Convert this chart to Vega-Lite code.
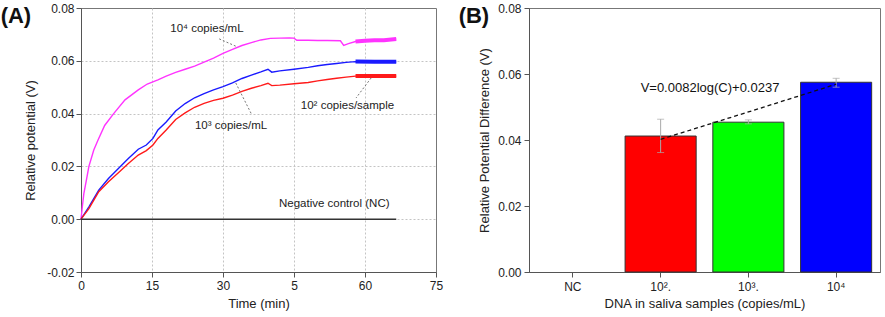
{
  "$schema": "https://vega.github.io/schema/vega-lite/v6.json",
  "background": "white",
  "padding": {"left": 0, "top": 1, "right": 0, "bottom": 0},
  "spacing": 14,
  "resolve": {"scale": {"color": "independent"}},
  "config": {
    "font": "Liberation Sans",
    "view": {"stroke": "#777", "strokeWidth": 1},
    "axis": {
      "domainColor": "#555",
      "tickColor": "#555",
      "labelColor": "#222",
      "titleColor": "#222",
      "labelFont": "Liberation Sans",
      "titleFont": "Liberation Sans",
      "labelFontSize": 12,
      "titleFontSize": 13,
      "titleFontWeight": "normal"
    },
    "title": {"font": "Liberation Sans", "fontSize": 22, "fontWeight": "bold", "anchor": "start", "frame": "bounds", "color": "#111"}
  },
  "datasets": {
    "curves": [
      {"s": "1e4", "t": 0, "v": 0}, {"s": "1e4", "t": 0.3, "v": 0.005}, {"s": "1e4", "t": 0.6, "v": 0.0097}, {"s": "1e4", "t": 1, "v": 0.0135},
      {"s": "1e4", "t": 1.67, "v": 0.02}, {"s": "1e4", "t": 2.7, "v": 0.0262}, {"s": "1e4", "t": 3.6, "v": 0.03}, {"s": "1e4", "t": 5, "v": 0.0355},
      {"s": "1e4", "t": 6.9, "v": 0.04}, {"s": "1e4", "t": 9.3, "v": 0.0452}, {"s": "1e4", "t": 12.1, "v": 0.049}, {"s": "1e4", "t": 14, "v": 0.0512},
      {"s": "1e4", "t": 16.25, "v": 0.0528}, {"s": "1e4", "t": 18, "v": 0.0542}, {"s": "1e4", "t": 20, "v": 0.0556}, {"s": "1e4", "t": 22, "v": 0.0568},
      {"s": "1e4", "t": 24, "v": 0.058}, {"s": "1e4", "t": 26, "v": 0.0595}, {"s": "1e4", "t": 28, "v": 0.061}, {"s": "1e4", "t": 30, "v": 0.0628},
      {"s": "1e4", "t": 32, "v": 0.0643}, {"s": "1e4", "t": 34, "v": 0.0658}, {"s": "1e4", "t": 36, "v": 0.0669}, {"s": "1e4", "t": 38, "v": 0.0679},
      {"s": "1e4", "t": 40, "v": 0.0685}, {"s": "1e4", "t": 42, "v": 0.0686}, {"s": "1e4", "t": 44, "v": 0.0687}, {"s": "1e4", "t": 45, "v": 0.0686},
      {"s": "1e4", "t": 45.6, "v": 0.0678}, {"s": "1e4", "t": 48, "v": 0.0678}, {"s": "1e4", "t": 50, "v": 0.0677}, {"s": "1e4", "t": 52, "v": 0.0677},
      {"s": "1e4", "t": 54.8, "v": 0.0676}, {"s": "1e4", "t": 55.5, "v": 0.0658}, {"s": "1e4", "t": 56.5, "v": 0.0665}, {"s": "1e4", "t": 58, "v": 0.0673},
      {"s": "1e4", "t": 60, "v": 0.0676}, {"s": "1e4", "t": 62, "v": 0.0678}, {"s": "1e4", "t": 64, "v": 0.0678}, {"s": "1e4", "t": 66.6, "v": 0.0683},

      {"s": "1e3", "t": 0, "v": 0}, {"s": "1e3", "t": 1.67, "v": 0.0047}, {"s": "1e3", "t": 3.75, "v": 0.011}, {"s": "1e3", "t": 5.8, "v": 0.0154},
      {"s": "1e3", "t": 7.9, "v": 0.0192}, {"s": "1e3", "t": 10, "v": 0.023}, {"s": "1e3", "t": 12.1, "v": 0.0265}, {"s": "1e3", "t": 13.8, "v": 0.0281},
      {"s": "1e3", "t": 15.2, "v": 0.0306}, {"s": "1e3", "t": 16.25, "v": 0.0338}, {"s": "1e3", "t": 18, "v": 0.0368}, {"s": "1e3", "t": 20, "v": 0.041},
      {"s": "1e3", "t": 22, "v": 0.0438}, {"s": "1e3", "t": 24, "v": 0.046}, {"s": "1e3", "t": 26, "v": 0.0476}, {"s": "1e3", "t": 28, "v": 0.049},
      {"s": "1e3", "t": 30, "v": 0.0502}, {"s": "1e3", "t": 32, "v": 0.0516}, {"s": "1e3", "t": 34, "v": 0.0533}, {"s": "1e3", "t": 36, "v": 0.0546},
      {"s": "1e3", "t": 38, "v": 0.0558}, {"s": "1e3", "t": 39.5, "v": 0.0568}, {"s": "1e3", "t": 40.3, "v": 0.0557}, {"s": "1e3", "t": 42, "v": 0.0562},
      {"s": "1e3", "t": 45, "v": 0.0568}, {"s": "1e3", "t": 48, "v": 0.0575}, {"s": "1e3", "t": 50, "v": 0.0581}, {"s": "1e3", "t": 52, "v": 0.0586},
      {"s": "1e3", "t": 54, "v": 0.059}, {"s": "1e3", "t": 56, "v": 0.0594}, {"s": "1e3", "t": 58, "v": 0.0597}, {"s": "1e3", "t": 62, "v": 0.0596},
      {"s": "1e3", "t": 66.6, "v": 0.0596},

      {"s": "1e2", "t": 0, "v": 0}, {"s": "1e2", "t": 1.67, "v": 0.004}, {"s": "1e2", "t": 3.75, "v": 0.0104}, {"s": "1e2", "t": 5.8, "v": 0.0142},
      {"s": "1e2", "t": 7.9, "v": 0.0176}, {"s": "1e2", "t": 10, "v": 0.0211}, {"s": "1e2", "t": 12.1, "v": 0.0243}, {"s": "1e2", "t": 13.8, "v": 0.026},
      {"s": "1e2", "t": 15.2, "v": 0.0281}, {"s": "1e2", "t": 16.25, "v": 0.0306}, {"s": "1e2", "t": 18, "v": 0.0338}, {"s": "1e2", "t": 20, "v": 0.0378},
      {"s": "1e2", "t": 22, "v": 0.0403}, {"s": "1e2", "t": 24, "v": 0.0424}, {"s": "1e2", "t": 26, "v": 0.0439}, {"s": "1e2", "t": 28, "v": 0.045},
      {"s": "1e2", "t": 30, "v": 0.0458}, {"s": "1e2", "t": 32, "v": 0.047}, {"s": "1e2", "t": 34, "v": 0.0484}, {"s": "1e2", "t": 36, "v": 0.0496},
      {"s": "1e2", "t": 38, "v": 0.0506}, {"s": "1e2", "t": 39.5, "v": 0.0515}, {"s": "1e2", "t": 40.3, "v": 0.0506}, {"s": "1e2", "t": 42, "v": 0.0508},
      {"s": "1e2", "t": 45, "v": 0.0513}, {"s": "1e2", "t": 48, "v": 0.0518}, {"s": "1e2", "t": 50, "v": 0.0524}, {"s": "1e2", "t": 52, "v": 0.0529},
      {"s": "1e2", "t": 54, "v": 0.0534}, {"s": "1e2", "t": 56, "v": 0.0538}, {"s": "1e2", "t": 58, "v": 0.0542}, {"s": "1e2", "t": 62, "v": 0.0542},
      {"s": "1e2", "t": 66.6, "v": 0.0542},

      {"s": "NC", "t": 0, "v": 0}, {"s": "NC", "t": 66.6, "v": 0}
    ],
    "leaders": [
      {"t": 29.2, "v": 0.0683, "t2": 33.0, "v2": 0.0653},
      {"t": 32.7, "v": 0.0516, "t2": 36.1, "v2": 0.0395},
      {"t": 61.3, "v": 0.0535, "t2": 58.1, "v2": 0.0459}
    ],
    "labelsA": [
      {"t": 26.6, "v": 0.0721, "label": "10⁴ copies/mL"},
      {"t": 31.7, "v": 0.0353, "label": "10³ copies/mL"},
      {"t": 56.3, "v": 0.0429, "label": "10² copies/sample"},
      {"t": 53.5, "v": 0.0057, "label": "Negative control (NC)"}
    ],
    "bars": [
      {"cat": "10².", "v": 0.0412, "lo": 0.0362, "hi": 0.0463},
      {"cat": "10³.", "v": 0.0454, "lo": 0.0449, "hi": 0.0461},
      {"cat": "10⁴", "v": 0.0575, "lo": 0.056, "hi": 0.0587}
    ],
    "fit": [
      {"cat": "10².", "v": 0.0402},
      {"cat": "10³.", "v": 0.0485},
      {"cat": "10⁴", "v": 0.0569}
    ],
    "eq": [{"cat": "10².", "v": 0.0558, "label": "V=0.0082log(C)+0.0237"}]
  },
  "hconcat": [
    {
      "width": 355,
      "height": 264,
      "title": {"text": "(A)", "dx": -24, "dy": 26, "offset": 0},
      "layer": [
        {
          "data": {"name": "curves"},
          "mark": {"type": "line", "strokeWidth": 1.4},
          "encoding": {
            "x": {
              "field": "t", "type": "quantitative",
              "scale": {"domain": [0, 75], "nice": false, "zero": false},
              "axis": {
                "title": "Time (min)",
                "values": [0, 7.5, 15, 22.5, 30, 37.5, 45, 52.5, 60, 67.5, 75],
                "labelExpr": "datum.value % 15 != 0 ? '' : (datum.value == 45 ? '5' : datum.label)",
                "tickSize": {"condition": {"test": "datum.value % 15 != 0", "value": 3}, "value": 5},
                "grid": true,
                "gridDash": [2, 2],
                "gridColor": "#c4c4c4",
                "gridOpacity": {"condition": {"test": "datum.value % 15 != 0 || datum.value == 0 || datum.value == 75", "value": 0}, "value": 1},
                "labelPadding": 3,
                "titlePadding": 6,
                "labelFlush": false
              }
            },
            "y": {
              "field": "v", "type": "quantitative",
              "scale": {"domain": [-0.02, 0.08], "nice": false, "zero": false},
              "axis": {
                "title": "Relative potential (V)",
                "values": [-0.02, -0.01, 0, 0.01, 0.02, 0.03, 0.04, 0.05, 0.06, 0.07, 0.08],
                "labelExpr": "abs(round(datum.value*100)) % 2 == 1 ? '' : (datum.value < 0 ? '-' : '') + format(abs(datum.value), '.2f')",
                "tickSize": {"condition": {"test": "abs(round(datum.value*100)) % 2 == 1", "value": 3}, "value": 5},
                "grid": true,
                "gridDash": [2, 2],
                "gridColor": "#c4c4c4",
                "gridOpacity": {"condition": {"test": "abs(round(datum.value*100)) % 2 == 1 || datum.value >= 0.079 || datum.value <= -0.019", "value": 0}, "value": 1},
                "labelPadding": 2,
                "titlePadding": 9,
                "labelFlush": false
              }
            },
            "color": {
              "field": "s", "type": "nominal",
              "scale": {"domain": ["NC", "1e2", "1e3", "1e4"], "range": ["#333333", "#ff1a1a", "#1a1aff", "#ff33ff"]},
              "legend": null
            },
            "order": {"field": "t", "type": "quantitative"}
          }
        },
        {
          "data": {"name": "curves"},
          "transform": [{"filter": "datum.t >= 58 && datum.s != 'NC'"}],
          "mark": {"type": "line", "strokeWidth": 4},
          "encoding": {
            "x": {"field": "t", "type": "quantitative"},
            "y": {"field": "v", "type": "quantitative"},
            "color": {"field": "s", "type": "nominal", "legend": null},
            "order": {"field": "t", "type": "quantitative"}
          }
        },
        {
          "data": {"name": "leaders"},
          "mark": {"type": "rule", "strokeDash": [2, 2], "color": "#666", "strokeWidth": 0.9},
          "encoding": {
            "x": {"field": "t", "type": "quantitative"},
            "y": {"field": "v", "type": "quantitative"},
            "x2": {"field": "t2"},
            "y2": {"field": "v2"}
          }
        },
        {
          "data": {"name": "labelsA"},
          "mark": {"type": "text", "fontSize": 11.5, "color": "#222", "baseline": "middle", "align": "center"},
          "encoding": {
            "x": {"field": "t", "type": "quantitative"},
            "y": {"field": "v", "type": "quantitative"},
            "text": {"field": "label"}
          }
        }
      ]
    },
    {
      "width": 351,
      "height": 264,
      "title": {"text": "(B)", "dx": -20, "dy": 26, "offset": 0},
      "encoding": {
        "x": {
          "field": "cat", "type": "nominal",
          "scale": {"domain": ["NC", "10².", "10³.", "10⁴"], "paddingInner": 0.19, "paddingOuter": 0.095},
          "axis": {"title": "DNA in saliva samples (copies/mL)", "labelAngle": 0, "tickSize": 5, "labelPadding": 4, "titlePadding": 5, "grid": false}
        }
      },
      "layer": [
        {
          "data": {"name": "bars"},
          "mark": {"type": "bar", "stroke": "#333", "strokeWidth": 1},
          "encoding": {
            "y": {
              "field": "v", "type": "quantitative",
              "scale": {"domain": [0, 0.08], "nice": false},
              "axis": {
                "title": "Relative Potential Difference (V)",
                "values": [0, 0.01, 0.02, 0.03, 0.04, 0.05, 0.06, 0.07, 0.08],
                "labelExpr": "abs(round(datum.value*100)) % 2 == 1 ? '' : format(datum.value, '.2f')",
                "tickSize": {"condition": {"test": "abs(round(datum.value*100)) % 2 == 1", "value": 3}, "value": 5},
                "grid": false,
                "labelPadding": 3,
                "titlePadding": 6,
                "labelFlush": false
              }
            },
            "color": {
              "field": "cat", "type": "nominal",
              "scale": {"domain": ["10².", "10³.", "10⁴"], "range": ["#ff0000", "#00ff00", "#0000ff"]},
              "legend": null
            }
          }
        },
        {
          "data": {"name": "bars"},
          "mark": {"type": "rule", "color": "#aaa", "strokeWidth": 1},
          "encoding": {
            "y": {"field": "lo", "type": "quantitative"},
            "y2": {"field": "hi"}
          }
        },
        {
          "data": {"name": "bars"},
          "mark": {"type": "tick", "color": "#aaa", "size": 7, "thickness": 1},
          "encoding": {"y": {"field": "hi", "type": "quantitative"}}
        },
        {
          "data": {"name": "bars"},
          "mark": {"type": "tick", "color": "#aaa", "size": 7, "thickness": 1},
          "encoding": {"y": {"field": "lo", "type": "quantitative"}}
        },
        {
          "data": {"name": "fit"},
          "mark": {"type": "line", "color": "#111", "strokeDash": [4, 3], "strokeWidth": 1.3},
          "encoding": {"y": {"field": "v", "type": "quantitative"}}
        },
        {
          "data": {"name": "eq"},
          "mark": {"type": "text", "fontSize": 13, "color": "#111", "align": "left", "baseline": "middle", "dx": -20},
          "encoding": {
            "y": {"field": "v", "type": "quantitative"},
            "text": {"field": "label"}
          }
        }
      ]
    }
  ]
}
